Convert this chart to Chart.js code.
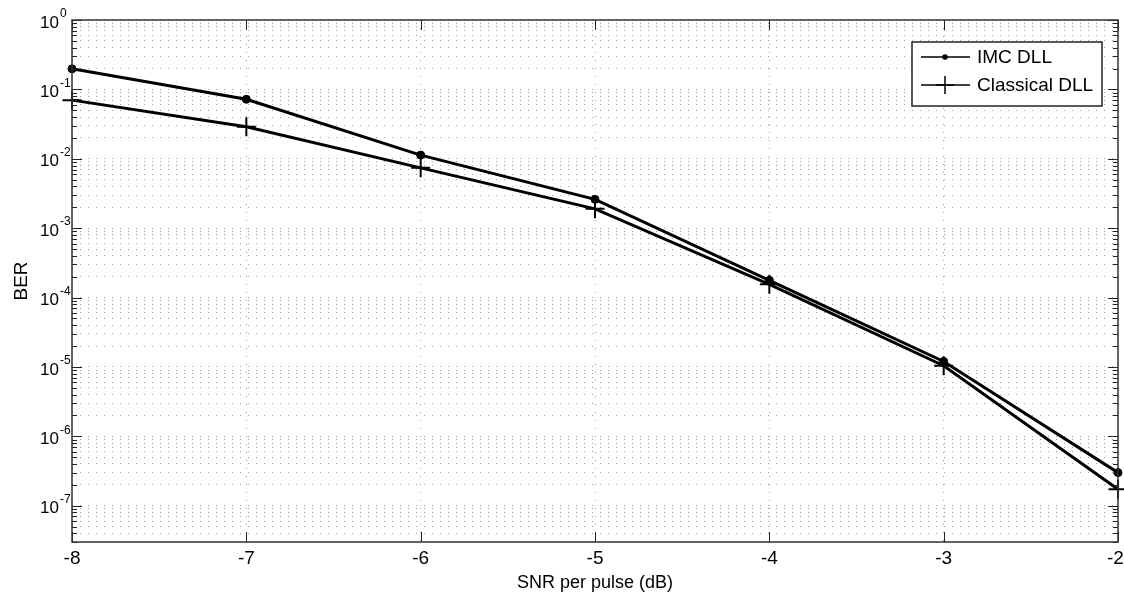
<!DOCTYPE html>
<html>
<head>
<meta charset="utf-8">
<script src="https://cdn.jsdelivr.net/npm/chart.js@4.4.1/dist/chart.umd.min.js"></script>
<style>
  html, body { margin: 0; padding: 0; background: #fff; }
  #wrap { width: 1124px; height: 597px; }
</style>
</head>
<body>
<div id="wrap"><canvas id="berChart" width="1124" height="597"></canvas></div>
<script>
// ==================== 데이터 ====================
const snrDb = [-8, -7, -6, -5, -4, -3, -2];
const berImc = [0.198, 0.072, 0.0113, 0.0026, 1.77e-4, 1.2e-5, 3.0e-7];
const berClassical = [0.070, 0.029, 0.0074, 0.0019, 1.55e-4, 1.04e-5, 1.73e-7];
const seriesNames = ["IMC DLL", "Classical DLL"];
const xTicks = [-8, -7, -6, -5, -4, -3, -2];
const yExponents = [0, -1, -2, -3, -4, -5, -6, -7];
const yMin = 3e-8;
const yMax = 1;

const FONT = '"Liberation Sans", Arial, sans-serif';
const gridColor = "rgba(0, 0, 0, 0.38)";

function isDecade(v) {
  const l = Math.log10(v);
  return Math.abs(l - Math.round(l)) < 1e-6;
}

// 로그축 눈금 (1..9 x 10^n)
function buildLogTicks(scale) {
  const ticks = [];
  for (let e = Math.floor(Math.log10(yMin)); e <= Math.log10(yMax); e++) {
    for (let m = 1; m <= 9; m++) {
      const v = m * Math.pow(10, e);
      if (v >= yMin * 0.999 && v <= yMax * 1.0001) ticks.push({ value: v });
    }
  }
  scale.ticks = ticks;
}

/* ===== MATLAB 스타일 축 상자, 지수, 범례 ===== */
const matlabAxes = {
  id: "matlabAxes",
  afterDraw(chart) {
    const { ctx, chartArea: a, scales: { x, y } } = chart;
    ctx.save();

    // 안쪽 눈금
    ctx.strokeStyle = "#222";
    ctx.lineWidth = 1;
    ctx.beginPath();
    y.ticks.forEach(t => {
      const py = Math.round(y.getPixelForValue(t.value)) + 0.5;
      const len = isDecade(t.value) ? 10 : 5;
      ctx.moveTo(a.left, py); ctx.lineTo(a.left + len, py);
      ctx.moveTo(a.right, py); ctx.lineTo(a.right - len, py);
    });
    x.ticks.forEach(t => {
      const px = Math.round(x.getPixelForValue(t.value)) + 0.5;
      ctx.moveTo(px, a.bottom); ctx.lineTo(px, a.bottom - 10);
      ctx.moveTo(px, a.top); ctx.lineTo(px, a.top + 10);
    });
    ctx.stroke();

    // 축 상자
    ctx.lineWidth = 1.5;
    ctx.strokeStyle = "#333";
    ctx.strokeRect(a.left, a.top, a.right - a.left, a.bottom - a.top);

    // 10^n 지수
    ctx.fillStyle = "#000";
    ctx.font = `12px ${FONT}`;
    ctx.textAlign = "left";
    ctx.textBaseline = "middle";
    yExponents.forEach(e => {
      const py = y.getPixelForValue(Math.pow(10, e));
      ctx.fillText(String(e), a.left - 12, py - 6);
    });

    // 범례
    const lw = 190, lh = 64;
    const lx = a.right - 16 - lw, ly = a.top + 22;
    ctx.fillStyle = "#fff";
    ctx.fillRect(lx, ly, lw, lh);
    ctx.strokeStyle = "#222";
    ctx.lineWidth = 1.5;
    ctx.strokeRect(lx, ly, lw, lh);

    seriesNames.forEach((name, i) => {
      const yy = ly + 15 + i * 28;
      ctx.strokeStyle = "#000";
      ctx.lineWidth = 1.5;
      ctx.beginPath();
      ctx.moveTo(lx + 9, yy); ctx.lineTo(lx + 58, yy);
      ctx.stroke();
      const mx = lx + 33;
      if (i === 0) {
        ctx.fillStyle = "#000";
        ctx.beginPath();
        ctx.arc(mx, yy, 2.8, 0, Math.PI * 2);
        ctx.fill();
      } else {
        ctx.beginPath();
        ctx.moveTo(mx, yy - 9); ctx.lineTo(mx, yy + 9);
        ctx.moveTo(mx - 9, yy); ctx.lineTo(mx + 9, yy);
        ctx.stroke();
      }
      ctx.fillStyle = "#000";
      ctx.font = `19px ${FONT}`;
      ctx.textAlign = "left";
      ctx.textBaseline = "middle";
      ctx.fillText(name, lx + 65, yy + 1);
    });

    ctx.restore();
  }
};

const ctx = document.getElementById("berChart").getContext("2d");

new Chart(ctx, {
  type: "line",
  data: {
    datasets: [
      {
        label: seriesNames[0],
        data: snrDb.map((v, i) => ({ x: v, y: berImc[i] })),
        borderColor: "#000",
        backgroundColor: "#000",
        borderWidth: 3,
        tension: 0,
        pointStyle: "circle",
        pointRadius: 4,
        pointBorderWidth: 1,
        pointBackgroundColor: "#000",
        pointBorderColor: "#000",
        clip: false
      },
      {
        label: seriesNames[1],
        data: snrDb.map((v, i) => ({ x: v, y: berClassical[i] })),
        borderColor: "#000",
        backgroundColor: "#000",
        borderWidth: 3,
        tension: 0,
        pointStyle: "cross",
        pointRadius: 9.5,
        pointBorderWidth: 2,
        pointBorderColor: "#000",
        clip: false
      }
    ]
  },
  options: {
    responsive: false,
    animation: false,
    layout: { autoPadding: false, padding: { left: 0, right: 6, top: 20, bottom: 0 } },
    plugins: {
      legend: { display: false },
      tooltip: { enabled: false }
    },
    scales: {
      x: {
        type: "linear",
        min: -8,
        max: -2,
        afterBuildTicks: s => { s.ticks = xTicks.map(v => ({ value: v })); },
        afterFit: s => { s.height = 55; s.paddingLeft = 0; s.paddingRight = 0; },
        ticks: {
          font: { family: FONT, size: 19 },
          color: "#000",
          padding: 5,
          // 마지막 라벨은 캔버스 안에 들어오도록 살짝 왼쪽으로
          callback: v => (v === xTicks[xTicks.length - 1] ? `${v} ` : String(v))
        },
        grid: { color: gridColor, lineWidth: 1, drawTicks: false },
        border: { display: false, dash: [1, 7] },
        title: {
          display: true,
          text: "SNR per pulse (dB)",
          font: { family: FONT, size: 18 },
          color: "#000",
          padding: { top: 0, bottom: 3 }
        }
      },
      y: {
        type: "logarithmic",
        min: yMin,
        max: yMax,
        afterBuildTicks: buildLogTicks,
        afterFit: s => { s.width = 72; s.paddingTop = 0; s.paddingBottom = 0; },
        ticks: {
          autoSkip: false,
          font: { family: FONT, size: 17 },
          color: "#000",
          padding: 13,
          labelOffset: 3,
          callback: v => (isDecade(v) ? "10" : "")
        },
        grid: { color: gridColor, lineWidth: 1, drawTicks: false },
        border: { display: false, dash: [1, 7] },
        title: {
          display: true,
          text: "BER",
          font: { family: FONT, size: 19 },
          color: "#000",
          padding: { top: 10, bottom: 0 }
        }
      }
    }
  },
  plugins: [matlabAxes]
});
</script>
</body>
</html>
